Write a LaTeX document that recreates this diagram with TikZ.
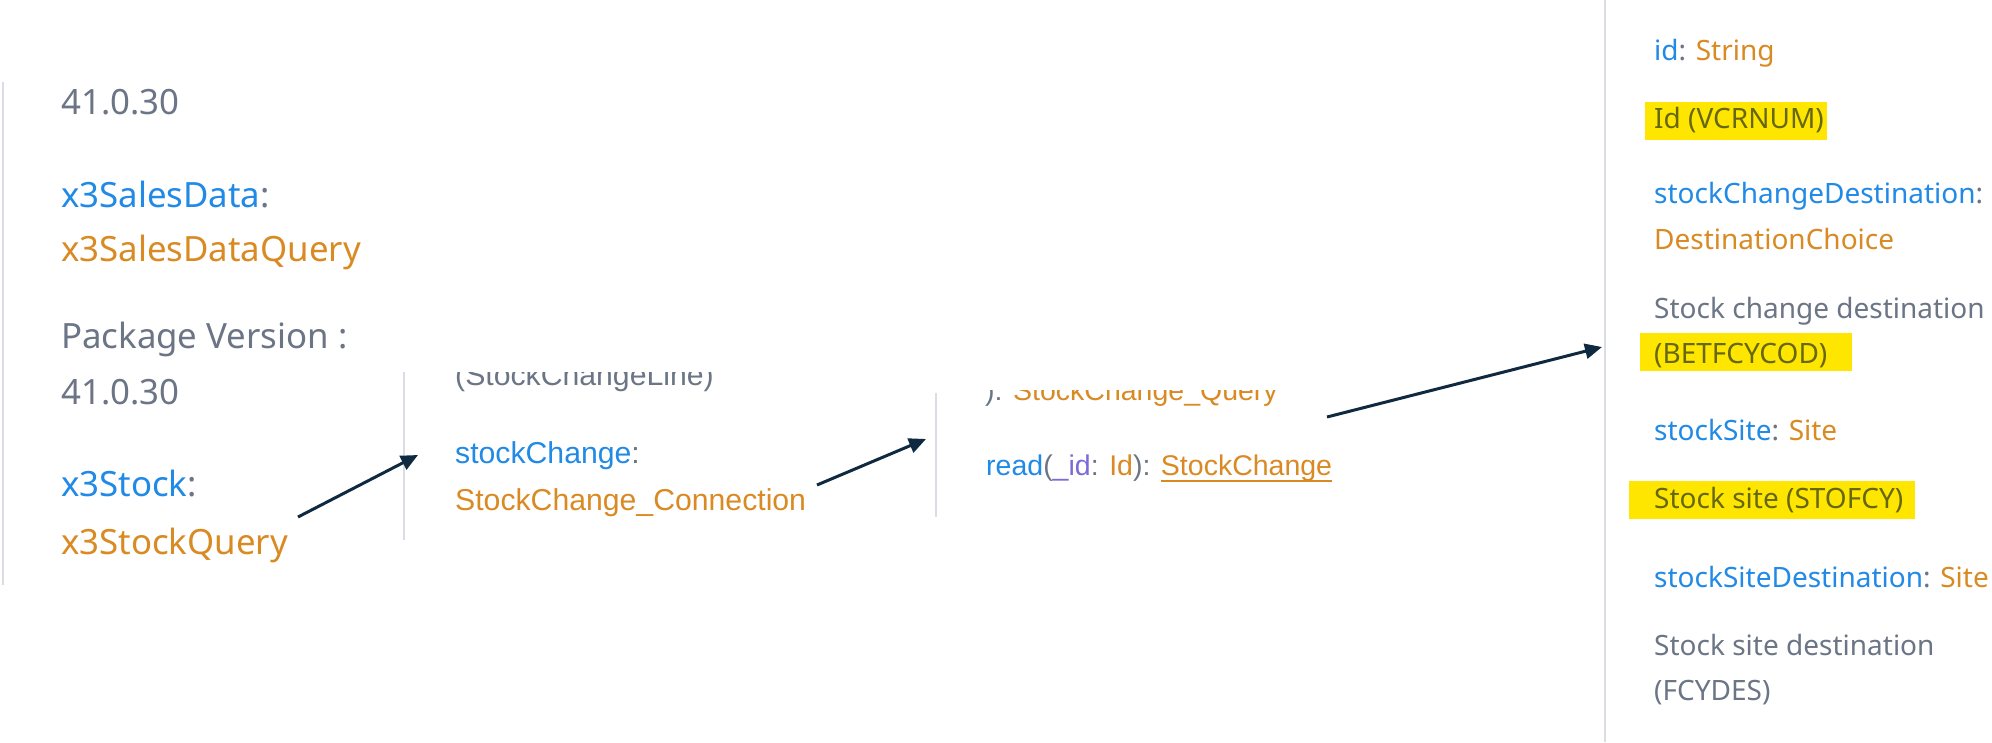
\documentclass[tikz,border=0pt]{standalone}
\usepackage{fontspec}
\setmainfont{Noto Sans}
\newfontfamily\robfont{Liberation Sans}
\usetikzlibrary{arrows.meta}
\definecolor{cblue}{HTML}{2189E6}
\definecolor{corange}{HTML}{D98A22}
\definecolor{cgray}{HTML}{6B7585}
\definecolor{cpurple}{HTML}{7C6AD9}
\definecolor{cline}{HTML}{DADEE4}
\definecolor{chl}{HTML}{FFE600}
\definecolor{chltext}{HTML}{67670F}
\definecolor{carrow}{HTML}{0F2A40}
\newcommand\myul[1]{\setbox0\hbox{#1}\rlap{\rule[-7pt]{\wd0}{1.8pt}}\box0}
\tikzset{
  pone/.style={anchor=base west, inner sep=0pt, font=\fontsize{34.8}{42}\selectfont},
  ptwo/.style={anchor=base west, inner sep=0pt, font=\robfont\fontsize{30.2}{36}\selectfont},
  pthree/.style={anchor=base west, inner sep=0pt, font=\robfont\fontsize{28.5}{35}\selectfont},
  pfour/.style={anchor=base west, inner sep=0pt, font=\fontsize{28}{34}\selectfont},
  sepline/.style={draw=cline, line width=1.5pt},
  hlbox/.style={fill=chl, draw=none},
  conn/.style={draw=carrow, line width=3pt, -{Triangle[length=17pt,width=15pt]}},
}
\begin{document}
\begin{tikzpicture}[x=1pt,y=-1pt]
\useasboundingbox (0,0) rectangle (1992,742);
\clip (0,0) rectangle (1992,742);
\fill[white] (0,0) rectangle (1992,742);
% panel 1
\draw[sepline] (3,82) -- (3,585);
\node[pone, text=cgray] (v1) at (61,114) {41.0.30};
\node[pone] (sd) at (61,207) {\textcolor{cblue}{x3SalesData}\textcolor{cgray}{:}};
\node[pone, text=corange] (sdq) at (61,261) {x3SalesDataQuery};
\node[pone, text=cgray] (pv) at (61,348) {Package Version :};
\node[pone, text=cgray] (v2) at (61,404) {41.0.30};
\node[pone] (st) at (61,496) {\textcolor{cblue}{x3Stock}\textcolor{cgray}{:}};
\node[pone, text=corange] (stq) at (61,554) {x3StockQuery};
% panel 2
\begin{scope}
\clip (400,372) rectangle (936,545);
\draw[sepline] (404,372) -- (404,540);
\node[ptwo, text=cgray] (scl) at (455,385) {(StockChangeLine)};
\node[ptwo] (sc) at (455,463) {\textcolor{cblue}{stockChange}\textcolor{cgray}{:}};
\node[ptwo, text=corange] (scc) at (455,510) {StockChange\_Connection};
\end{scope}
% panel 3
\begin{scope}
\clip (930,390) rectangle (1400,545);
\draw[sepline] (936,393) -- (936,517);
\node[pthree] (q) at (985,400) {\textcolor{cgray}{):} \textcolor{corange}{StockChange\_Query}};
\node[pthree] (rd) at (986,475) {\textcolor{cblue}{read}\textcolor{cgray}{(}\textcolor{cpurple}{\_id}\textcolor{cgray}{:} \textcolor{corange}{Id}\textcolor{cgray}{):} \textcolor{corange}{\myul{StockChange}}};
\end{scope}
% panel 4
\draw[sepline] (1605,0) -- (1605,742);
\fill[hlbox] (1645,102) rectangle (1827,140);
\fill[hlbox] (1640,333) rectangle (1852,371);
\fill[hlbox] (1629,481) rectangle (1915,519);
\node[pfour] (idf) at (1654,60) {\textcolor{cblue}{id}\textcolor{cgray}{:} \textcolor{corange}{String}};
\node[pfour, text=chltext] (idd) at (1654,128) {Id (VCRNUM)};
\node[pfour] (scd) at (1654,203) {\textcolor{cblue}{stockChangeDestination}\textcolor{cgray}{:}};
\node[pfour, text=corange] (dc) at (1654,249) {DestinationChoice};
\node[pfour, text=cgray] (scdd) at (1654,318) {Stock change destination};
\node[pfour, text=chltext] (bet) at (1654,363) {(BETFCYCOD)};
\node[pfour] (ss) at (1654,440) {\textcolor{cblue}{stockSite}\textcolor{cgray}{:} \textcolor{corange}{Site}};
\node[pfour, text=chltext] (ssd) at (1654,508) {Stock site (STOFCY)};
\node[pfour] (ssdest) at (1654,587) {\textcolor{cblue}{stockSiteDestination}\textcolor{cgray}{:} \textcolor{corange}{Site}};
\node[pfour, text=cgray] (ssdd) at (1654,655) {Stock site destination};
\node[pfour, text=cgray] (fcy) at (1654,700) {(FCYDES)};
% arrows
\coordinate (a1s) at (298,517);
\coordinate (a1e) at (418,455);
\coordinate (a2s) at (817,485);
\coordinate (a2e) at (926,439);
\coordinate (a3s) at (1327,417);
\coordinate (a3e) at (1602,347);
\draw[conn] (a1s) -- (a1e);
\draw[conn] (a2s) -- (a2e);
\draw[conn] (a3s) -- (a3e);
\end{tikzpicture}
\end{document}
